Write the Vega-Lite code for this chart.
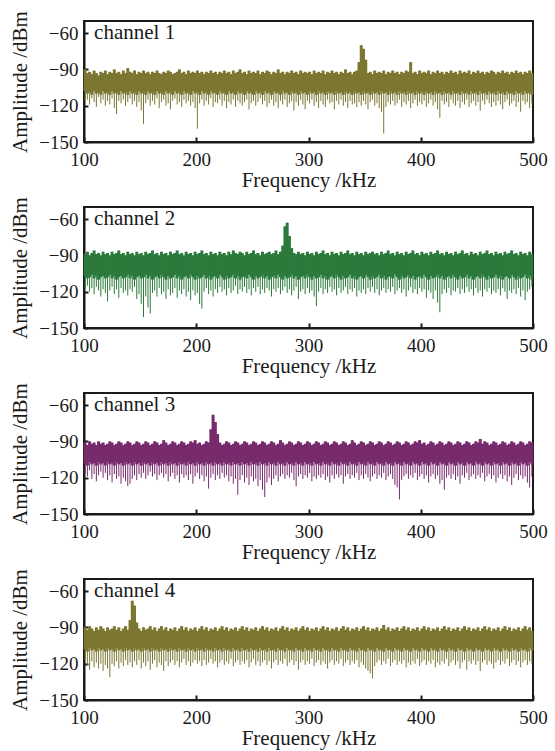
{
"$schema": "https://vega.github.io/schema/vega-lite/v6.json",
"padding": {"left": 8, "top": 9, "right": 0, "bottom": 2},
"background": "white",
"config": {
  "font": "'Liberation Serif', 'Times New Roman', Times, serif",
  "view": {"stroke": "#1a1a1a", "strokeWidth": 2},
  "axis": {"labelFont": "'Liberation Serif', 'Times New Roman', Times, serif", "titleFont": "'Liberation Serif', 'Times New Roman', Times, serif", "labelFontSize": 19, "titleFontSize": 21, "titleFontWeight": "normal", "labelColor": "#1a1a1a", "titleColor": "#1a1a1a", "domainColor": "#1a1a1a", "domainWidth": 2, "tickColor": "#1a1a1a", "tickWidth": 2, "grid": false, "labelFlush": false, "labelOverlap": false},
  "text": {"font": "'Liberation Serif', 'Times New Roman', Times, serif"}
},
"datasets": {
"c1": [
{"f":101,"h":-90,"m":-108,"l":-116},{"f":103,"h":-93,"m":-110,"l":-115},{"f":105,"h":-92,"m":-109,"l":-119},{"f":107,"h":-94,"m":-111,"l":-114},{"f":109,"h":-91,"m":-108,"l":-117},{"f":111,"h":-93,"m":-110,"l":-121},{"f":113,"h":-95,"m":-109,"l":-113},{"f":115,"h":-92,"m":-111,"l":-118},{"f":117,"h":-93,"m":-108,"l":-115},{"f":119,"h":-91,"m":-110,"l":-120},
{"f":121,"h":-94,"m":-109,"l":-116},{"f":123,"h":-92,"m":-111,"l":-119},{"f":125,"h":-93,"m":-108,"l":-114},{"f":127,"h":-90,"m":-110,"l":-122},{"f":129,"h":-93,"m":-109,"l":-127},{"f":131,"h":-92,"m":-111,"l":-116},{"f":133,"h":-94,"m":-108,"l":-118},{"f":135,"h":-91,"m":-110,"l":-115},{"f":137,"h":-93,"m":-109,"l":-120},{"f":139,"h":-89,"m":-111,"l":-117},
{"f":141,"h":-92,"m":-108,"l":-114},{"f":143,"h":-93,"m":-110,"l":-119},{"f":145,"h":-91,"m":-109,"l":-116},{"f":147,"h":-94,"m":-111,"l":-121},{"f":149,"h":-92,"m":-108,"l":-117},{"f":151,"h":-93,"m":-110,"l":-124},{"f":153,"h":-91,"m":-109,"l":-135},{"f":155,"h":-93,"m":-111,"l":-118},{"f":157,"h":-92,"m":-108,"l":-115},{"f":159,"h":-94,"m":-110,"l":-120},
{"f":161,"h":-92,"m":-109,"l":-116},{"f":163,"h":-93,"m":-111,"l":-119},{"f":165,"h":-91,"m":-108,"l":-114},{"f":167,"h":-93,"m":-110,"l":-122},{"f":169,"h":-94,"m":-109,"l":-117},{"f":171,"h":-92,"m":-111,"l":-115},{"f":173,"h":-93,"m":-108,"l":-120},{"f":175,"h":-91,"m":-110,"l":-118},{"f":177,"h":-92,"m":-109,"l":-123},{"f":179,"h":-94,"m":-111,"l":-116},
{"f":181,"h":-93,"m":-108,"l":-114},{"f":183,"h":-92,"m":-110,"l":-119},{"f":185,"h":-90,"m":-109,"l":-117},{"f":187,"h":-93,"m":-111,"l":-121},{"f":189,"h":-92,"m":-108,"l":-115},{"f":191,"h":-94,"m":-110,"l":-118},{"f":193,"h":-91,"m":-109,"l":-116},{"f":195,"h":-93,"m":-111,"l":-120},{"f":197,"h":-92,"m":-108,"l":-117},{"f":199,"h":-93,"m":-110,"l":-122},
{"f":201,"h":-91,"m":-109,"l":-139},{"f":203,"h":-93,"m":-111,"l":-118},{"f":205,"h":-92,"m":-108,"l":-115},{"f":207,"h":-94,"m":-110,"l":-120},{"f":209,"h":-92,"m":-109,"l":-116},{"f":211,"h":-93,"m":-111,"l":-119},{"f":213,"h":-91,"m":-108,"l":-114},{"f":215,"h":-93,"m":-110,"l":-121},{"f":217,"h":-92,"m":-109,"l":-117},{"f":219,"h":-94,"m":-111,"l":-118},
{"f":221,"h":-92,"m":-108,"l":-115},{"f":223,"h":-93,"m":-110,"l":-120},{"f":225,"h":-91,"m":-109,"l":-116},{"f":227,"h":-93,"m":-111,"l":-122},{"f":229,"h":-92,"m":-108,"l":-117},{"f":231,"h":-94,"m":-110,"l":-119},{"f":233,"h":-91,"m":-109,"l":-115},{"f":235,"h":-93,"m":-111,"l":-121},{"f":237,"h":-92,"m":-108,"l":-116},{"f":239,"h":-90,"m":-110,"l":-118},
{"f":241,"h":-93,"m":-109,"l":-120},{"f":243,"h":-92,"m":-111,"l":-117},{"f":245,"h":-94,"m":-108,"l":-115},{"f":247,"h":-91,"m":-110,"l":-123},{"f":249,"h":-93,"m":-109,"l":-118},{"f":251,"h":-92,"m":-111,"l":-116},{"f":253,"h":-93,"m":-108,"l":-120},{"f":255,"h":-91,"m":-110,"l":-117},{"f":257,"h":-94,"m":-109,"l":-114},{"f":259,"h":-92,"m":-111,"l":-119},
{"f":261,"h":-93,"m":-108,"l":-116},{"f":263,"h":-91,"m":-110,"l":-121},{"f":265,"h":-92,"m":-109,"l":-118},{"f":267,"h":-94,"m":-111,"l":-115},{"f":269,"h":-92,"m":-108,"l":-120},{"f":271,"h":-93,"m":-110,"l":-117},{"f":273,"h":-90,"m":-109,"l":-122},{"f":275,"h":-93,"m":-111,"l":-116},{"f":277,"h":-92,"m":-108,"l":-119},{"f":279,"h":-94,"m":-110,"l":-115},
{"f":281,"h":-92,"m":-109,"l":-121},{"f":283,"h":-93,"m":-111,"l":-118},{"f":285,"h":-91,"m":-108,"l":-116},{"f":287,"h":-93,"m":-110,"l":-124},{"f":289,"h":-92,"m":-109,"l":-117},{"f":291,"h":-94,"m":-111,"l":-120},{"f":293,"h":-91,"m":-108,"l":-115},{"f":295,"h":-93,"m":-110,"l":-119},{"f":297,"h":-92,"m":-109,"l":-123},{"f":299,"h":-93,"m":-111,"l":-116},
{"f":301,"h":-92,"m":-108,"l":-118},{"f":303,"h":-94,"m":-110,"l":-115},{"f":305,"h":-91,"m":-109,"l":-120},{"f":307,"h":-93,"m":-111,"l":-117},{"f":309,"h":-92,"m":-108,"l":-122},{"f":311,"h":-93,"m":-110,"l":-116},{"f":313,"h":-91,"m":-109,"l":-119},{"f":315,"h":-94,"m":-111,"l":-121},{"f":317,"h":-92,"m":-108,"l":-115},{"f":319,"h":-93,"m":-110,"l":-118},
{"f":321,"h":-91,"m":-109,"l":-117},{"f":323,"h":-93,"m":-111,"l":-123},{"f":325,"h":-92,"m":-108,"l":-116},{"f":327,"h":-94,"m":-110,"l":-119},{"f":329,"h":-92,"m":-109,"l":-115},{"f":331,"h":-93,"m":-111,"l":-120},{"f":333,"h":-90,"m":-108,"l":-117},{"f":335,"h":-93,"m":-110,"l":-122},{"f":337,"h":-92,"m":-109,"l":-116},{"f":339,"h":-94,"m":-111,"l":-119},
{"f":341,"h":-92,"m":-108,"l":-118},{"f":343,"h":-91,"m":-110,"l":-121},{"f":345,"h":-84,"m":-109,"l":-117},{"f":347,"h":-70,"m":-111,"l":-120},{"f":349,"h":-73,"m":-108,"l":-116},{"f":351,"h":-82,"m":-110,"l":-119},{"f":353,"h":-93,"m":-109,"l":-123},{"f":355,"h":-92,"m":-111,"l":-117},{"f":357,"h":-94,"m":-108,"l":-115},{"f":359,"h":-91,"m":-110,"l":-120},
{"f":361,"h":-93,"m":-109,"l":-118},{"f":363,"h":-92,"m":-111,"l":-122},{"f":365,"h":-93,"m":-108,"l":-125},{"f":367,"h":-91,"m":-110,"l":-143},{"f":369,"h":-94,"m":-109,"l":-121},{"f":371,"h":-92,"m":-111,"l":-117},{"f":373,"h":-93,"m":-108,"l":-119},{"f":375,"h":-91,"m":-110,"l":-116},{"f":377,"h":-93,"m":-109,"l":-120},{"f":379,"h":-92,"m":-111,"l":-118},
{"f":381,"h":-94,"m":-108,"l":-115},{"f":383,"h":-92,"m":-110,"l":-121},{"f":385,"h":-93,"m":-109,"l":-117},{"f":387,"h":-91,"m":-111,"l":-119},{"f":389,"h":-92,"m":-108,"l":-116},{"f":391,"h":-84,"m":-110,"l":-122},{"f":393,"h":-93,"m":-109,"l":-118},{"f":395,"h":-92,"m":-111,"l":-115},{"f":397,"h":-94,"m":-108,"l":-120},{"f":399,"h":-91,"m":-110,"l":-117},
{"f":401,"h":-93,"m":-109,"l":-119},{"f":403,"h":-92,"m":-111,"l":-116},{"f":405,"h":-93,"m":-108,"l":-121},{"f":407,"h":-91,"m":-110,"l":-118},{"f":409,"h":-94,"m":-109,"l":-115},{"f":411,"h":-92,"m":-111,"l":-120},{"f":413,"h":-93,"m":-108,"l":-117},{"f":415,"h":-91,"m":-110,"l":-123},{"f":417,"h":-93,"m":-109,"l":-130},{"f":419,"h":-92,"m":-111,"l":-116},
{"f":421,"h":-94,"m":-108,"l":-119},{"f":423,"h":-92,"m":-110,"l":-117},{"f":425,"h":-93,"m":-109,"l":-121},{"f":427,"h":-91,"m":-111,"l":-115},{"f":429,"h":-93,"m":-108,"l":-118},{"f":431,"h":-92,"m":-110,"l":-120},{"f":433,"h":-94,"m":-109,"l":-116},{"f":435,"h":-91,"m":-111,"l":-122},{"f":437,"h":-93,"m":-108,"l":-117},{"f":439,"h":-92,"m":-110,"l":-119},
{"f":441,"h":-93,"m":-109,"l":-115},{"f":443,"h":-91,"m":-111,"l":-121},{"f":445,"h":-94,"m":-108,"l":-118},{"f":447,"h":-92,"m":-110,"l":-116},{"f":449,"h":-93,"m":-109,"l":-120},{"f":451,"h":-91,"m":-111,"l":-117},{"f":453,"h":-93,"m":-108,"l":-124},{"f":455,"h":-92,"m":-110,"l":-116},{"f":457,"h":-94,"m":-109,"l":-119},{"f":459,"h":-92,"m":-111,"l":-115},
{"f":461,"h":-93,"m":-108,"l":-118},{"f":463,"h":-91,"m":-110,"l":-121},{"f":465,"h":-92,"m":-109,"l":-117},{"f":467,"h":-94,"m":-111,"l":-120},{"f":469,"h":-92,"m":-108,"l":-116},{"f":471,"h":-93,"m":-110,"l":-119},{"f":473,"h":-91,"m":-109,"l":-123},{"f":475,"h":-93,"m":-111,"l":-117},{"f":477,"h":-92,"m":-108,"l":-115},{"f":479,"h":-94,"m":-110,"l":-120},
{"f":481,"h":-92,"m":-109,"l":-118},{"f":483,"h":-93,"m":-111,"l":-116},{"f":485,"h":-91,"m":-108,"l":-121},{"f":487,"h":-93,"m":-110,"l":-117},{"f":489,"h":-92,"m":-109,"l":-125},{"f":491,"h":-94,"m":-111,"l":-116},{"f":493,"h":-92,"m":-108,"l":-119},{"f":495,"h":-93,"m":-110,"l":-117},{"f":497,"h":-91,"m":-109,"l":-122},{"f":499,"h":-93,"m":-111,"l":-118}
],
"c2": [
{"f":101,"h":-89,"m":-107,"l":-118},{"f":103,"h":-87,"m":-109,"l":-115},{"f":105,"h":-90,"m":-108,"l":-120},{"f":107,"h":-88,"m":-106,"l":-117},{"f":109,"h":-86,"m":-109,"l":-122},{"f":111,"h":-89,"m":-107,"l":-116},{"f":113,"h":-88,"m":-110,"l":-119},{"f":115,"h":-90,"m":-108,"l":-124},{"f":117,"h":-87,"m":-107,"l":-118},{"f":119,"h":-89,"m":-109,"l":-121},
{"f":121,"h":-88,"m":-108,"l":-128},{"f":123,"h":-90,"m":-106,"l":-119},{"f":125,"h":-87,"m":-109,"l":-116},{"f":127,"h":-89,"m":-107,"l":-122},{"f":129,"h":-88,"m":-110,"l":-118},{"f":131,"h":-86,"m":-108,"l":-125},{"f":133,"h":-89,"m":-107,"l":-117},{"f":135,"h":-88,"m":-109,"l":-121},{"f":137,"h":-90,"m":-108,"l":-119},{"f":139,"h":-87,"m":-106,"l":-123},
{"f":141,"h":-89,"m":-109,"l":-118},{"f":143,"h":-88,"m":-107,"l":-120},{"f":145,"h":-90,"m":-110,"l":-116},{"f":147,"h":-87,"m":-108,"l":-126},{"f":149,"h":-89,"m":-107,"l":-122},{"f":151,"h":-88,"m":-109,"l":-130},{"f":153,"h":-90,"m":-108,"l":-141},{"f":155,"h":-87,"m":-106,"l":-124},{"f":157,"h":-89,"m":-109,"l":-133},{"f":159,"h":-88,"m":-107,"l":-138},
{"f":161,"h":-86,"m":-110,"l":-121},{"f":163,"h":-89,"m":-108,"l":-119},{"f":165,"h":-88,"m":-107,"l":-124},{"f":167,"h":-90,"m":-109,"l":-117},{"f":169,"h":-87,"m":-106,"l":-122},{"f":171,"h":-89,"m":-108,"l":-120},{"f":173,"h":-88,"m":-110,"l":-126},{"f":175,"h":-90,"m":-107,"l":-118},{"f":177,"h":-87,"m":-109,"l":-123},{"f":179,"h":-89,"m":-108,"l":-121},
{"f":181,"h":-88,"m":-106,"l":-117},{"f":183,"h":-86,"m":-109,"l":-125},{"f":185,"h":-89,"m":-107,"l":-119},{"f":187,"h":-88,"m":-110,"l":-122},{"f":189,"h":-90,"m":-108,"l":-118},{"f":191,"h":-87,"m":-107,"l":-124},{"f":193,"h":-89,"m":-109,"l":-120},{"f":195,"h":-88,"m":-106,"l":-127},{"f":197,"h":-90,"m":-108,"l":-119},{"f":199,"h":-87,"m":-110,"l":-123},
{"f":201,"h":-89,"m":-107,"l":-121},{"f":203,"h":-88,"m":-109,"l":-130},{"f":205,"h":-86,"m":-108,"l":-134},{"f":207,"h":-89,"m":-106,"l":-120},{"f":209,"h":-88,"m":-109,"l":-117},{"f":211,"h":-90,"m":-107,"l":-122},{"f":213,"h":-87,"m":-110,"l":-119},{"f":215,"h":-89,"m":-108,"l":-124},{"f":217,"h":-88,"m":-107,"l":-118},{"f":219,"h":-90,"m":-109,"l":-121},
{"f":221,"h":-87,"m":-106,"l":-116},{"f":223,"h":-89,"m":-108,"l":-120},{"f":225,"h":-88,"m":-110,"l":-118},{"f":227,"h":-90,"m":-107,"l":-123},{"f":229,"h":-87,"m":-109,"l":-117},{"f":231,"h":-89,"m":-108,"l":-121},{"f":233,"h":-86,"m":-106,"l":-119},{"f":235,"h":-88,"m":-109,"l":-115},{"f":237,"h":-89,"m":-107,"l":-122},{"f":239,"h":-87,"m":-110,"l":-118},
{"f":241,"h":-88,"m":-108,"l":-120},{"f":243,"h":-90,"m":-107,"l":-116},{"f":245,"h":-87,"m":-109,"l":-121},{"f":247,"h":-89,"m":-106,"l":-118},{"f":249,"h":-88,"m":-108,"l":-123},{"f":251,"h":-86,"m":-110,"l":-117},{"f":253,"h":-89,"m":-107,"l":-120},{"f":255,"h":-88,"m":-109,"l":-116},{"f":257,"h":-90,"m":-108,"l":-122},{"f":259,"h":-87,"m":-106,"l":-118},
{"f":261,"h":-89,"m":-109,"l":-121},{"f":263,"h":-88,"m":-107,"l":-117},{"f":265,"h":-87,"m":-110,"l":-119},{"f":267,"h":-89,"m":-108,"l":-124},{"f":269,"h":-88,"m":-107,"l":-118},{"f":271,"h":-86,"m":-109,"l":-120},{"f":273,"h":-89,"m":-106,"l":-117},{"f":275,"h":-87,"m":-108,"l":-122},{"f":277,"h":-82,"m":-110,"l":-119},{"f":279,"h":-66,"m":-107,"l":-116},
{"f":281,"h":-63,"m":-109,"l":-121},{"f":283,"h":-74,"m":-108,"l":-118},{"f":285,"h":-84,"m":-106,"l":-123},{"f":287,"h":-88,"m":-109,"l":-119},{"f":289,"h":-89,"m":-107,"l":-116},{"f":291,"h":-87,"m":-110,"l":-126},{"f":293,"h":-89,"m":-108,"l":-120},{"f":295,"h":-88,"m":-107,"l":-118},{"f":297,"h":-90,"m":-109,"l":-122},{"f":299,"h":-87,"m":-106,"l":-117},
{"f":301,"h":-89,"m":-108,"l":-121},{"f":303,"h":-88,"m":-110,"l":-119},{"f":305,"h":-90,"m":-107,"l":-124},{"f":307,"h":-87,"m":-109,"l":-132},{"f":309,"h":-89,"m":-108,"l":-120},{"f":311,"h":-88,"m":-106,"l":-117},{"f":313,"h":-86,"m":-109,"l":-122},{"f":315,"h":-89,"m":-107,"l":-118},{"f":317,"h":-88,"m":-110,"l":-121},{"f":319,"h":-90,"m":-108,"l":-116},
{"f":321,"h":-87,"m":-107,"l":-120},{"f":323,"h":-89,"m":-109,"l":-118},{"f":325,"h":-88,"m":-106,"l":-123},{"f":327,"h":-90,"m":-108,"l":-117},{"f":329,"h":-87,"m":-110,"l":-121},{"f":331,"h":-89,"m":-107,"l":-119},{"f":333,"h":-88,"m":-109,"l":-116},{"f":335,"h":-86,"m":-108,"l":-122},{"f":337,"h":-89,"m":-106,"l":-118},{"f":339,"h":-88,"m":-109,"l":-120},
{"f":341,"h":-90,"m":-107,"l":-117},{"f":343,"h":-87,"m":-110,"l":-124},{"f":345,"h":-89,"m":-108,"l":-119},{"f":347,"h":-88,"m":-107,"l":-121},{"f":349,"h":-90,"m":-109,"l":-118},{"f":351,"h":-87,"m":-106,"l":-122},{"f":353,"h":-89,"m":-108,"l":-117},{"f":355,"h":-88,"m":-110,"l":-120},{"f":357,"h":-87,"m":-107,"l":-116},{"f":359,"h":-89,"m":-109,"l":-121},
{"f":361,"h":-88,"m":-108,"l":-118},{"f":363,"h":-90,"m":-106,"l":-123},{"f":365,"h":-87,"m":-109,"l":-119},{"f":367,"h":-89,"m":-107,"l":-117},{"f":369,"h":-88,"m":-110,"l":-121},{"f":371,"h":-86,"m":-108,"l":-118},{"f":373,"h":-89,"m":-107,"l":-120},{"f":375,"h":-88,"m":-109,"l":-116},{"f":377,"h":-90,"m":-106,"l":-122},{"f":379,"h":-87,"m":-108,"l":-119},
{"f":381,"h":-89,"m":-110,"l":-117},{"f":383,"h":-88,"m":-107,"l":-121},{"f":385,"h":-90,"m":-109,"l":-118},{"f":387,"h":-87,"m":-108,"l":-124},{"f":389,"h":-89,"m":-106,"l":-119},{"f":391,"h":-88,"m":-109,"l":-116},{"f":393,"h":-86,"m":-107,"l":-121},{"f":395,"h":-89,"m":-110,"l":-118},{"f":397,"h":-88,"m":-108,"l":-122},{"f":399,"h":-90,"m":-107,"l":-117},
{"f":401,"h":-87,"m":-109,"l":-120},{"f":403,"h":-89,"m":-106,"l":-118},{"f":405,"h":-88,"m":-108,"l":-125},{"f":407,"h":-90,"m":-110,"l":-119},{"f":409,"h":-87,"m":-107,"l":-121},{"f":411,"h":-89,"m":-109,"l":-126},{"f":413,"h":-88,"m":-108,"l":-119},{"f":415,"h":-86,"m":-106,"l":-129},{"f":417,"h":-89,"m":-109,"l":-137},{"f":419,"h":-88,"m":-107,"l":-122},
{"f":421,"h":-90,"m":-110,"l":-118},{"f":423,"h":-87,"m":-108,"l":-121},{"f":425,"h":-89,"m":-107,"l":-117},{"f":427,"h":-88,"m":-109,"l":-123},{"f":429,"h":-90,"m":-106,"l":-119},{"f":431,"h":-87,"m":-108,"l":-120},{"f":433,"h":-89,"m":-110,"l":-117},{"f":435,"h":-88,"m":-107,"l":-122},{"f":437,"h":-86,"m":-109,"l":-118},{"f":439,"h":-89,"m":-108,"l":-121},
{"f":441,"h":-88,"m":-106,"l":-116},{"f":443,"h":-90,"m":-109,"l":-120},{"f":445,"h":-87,"m":-107,"l":-118},{"f":447,"h":-89,"m":-110,"l":-123},{"f":449,"h":-88,"m":-108,"l":-117},{"f":451,"h":-90,"m":-107,"l":-121},{"f":453,"h":-87,"m":-109,"l":-119},{"f":455,"h":-89,"m":-106,"l":-124},{"f":457,"h":-88,"m":-108,"l":-118},{"f":459,"h":-86,"m":-110,"l":-120},
{"f":461,"h":-89,"m":-107,"l":-117},{"f":463,"h":-88,"m":-109,"l":-122},{"f":465,"h":-90,"m":-108,"l":-119},{"f":467,"h":-87,"m":-106,"l":-121},{"f":469,"h":-89,"m":-109,"l":-118},{"f":471,"h":-88,"m":-107,"l":-123},{"f":473,"h":-90,"m":-110,"l":-117},{"f":475,"h":-87,"m":-108,"l":-120},{"f":477,"h":-89,"m":-107,"l":-126},{"f":479,"h":-88,"m":-109,"l":-119},
{"f":481,"h":-86,"m":-106,"l":-121},{"f":483,"h":-89,"m":-108,"l":-118},{"f":485,"h":-88,"m":-110,"l":-122},{"f":487,"h":-90,"m":-107,"l":-117},{"f":489,"h":-87,"m":-109,"l":-124},{"f":491,"h":-89,"m":-108,"l":-119},{"f":493,"h":-88,"m":-106,"l":-127},{"f":495,"h":-90,"m":-109,"l":-120},{"f":497,"h":-87,"m":-107,"l":-118},{"f":499,"h":-89,"m":-110,"l":-116}
],
"c3": [
{"f":101,"h":-91,"m":-108,"l":-116},{"f":103,"h":-93,"m":-110,"l":-119},{"f":105,"h":-90,"m":-107,"l":-114},{"f":107,"h":-92,"m":-109,"l":-121},{"f":109,"h":-91,"m":-108,"l":-117},{"f":111,"h":-93,"m":-110,"l":-123},{"f":113,"h":-90,"m":-107,"l":-118},{"f":115,"h":-92,"m":-109,"l":-115},{"f":117,"h":-91,"m":-108,"l":-120},{"f":119,"h":-93,"m":-110,"l":-116},
{"f":121,"h":-92,"m":-107,"l":-122},{"f":123,"h":-90,"m":-109,"l":-118},{"f":125,"h":-91,"m":-108,"l":-124},{"f":127,"h":-93,"m":-110,"l":-117},{"f":129,"h":-92,"m":-107,"l":-121},{"f":131,"h":-90,"m":-109,"l":-119},{"f":133,"h":-91,"m":-108,"l":-125},{"f":135,"h":-93,"m":-110,"l":-120},{"f":137,"h":-92,"m":-107,"l":-123},{"f":139,"h":-90,"m":-109,"l":-127},
{"f":141,"h":-91,"m":-108,"l":-125},{"f":143,"h":-93,"m":-110,"l":-121},{"f":145,"h":-92,"m":-107,"l":-118},{"f":147,"h":-90,"m":-109,"l":-122},{"f":149,"h":-91,"m":-108,"l":-117},{"f":151,"h":-93,"m":-110,"l":-120},{"f":153,"h":-92,"m":-107,"l":-116},{"f":155,"h":-90,"m":-109,"l":-121},{"f":157,"h":-91,"m":-108,"l":-118},{"f":159,"h":-93,"m":-110,"l":-115},
{"f":161,"h":-92,"m":-107,"l":-119},{"f":163,"h":-90,"m":-109,"l":-117},{"f":165,"h":-91,"m":-108,"l":-122},{"f":167,"h":-93,"m":-110,"l":-118},{"f":169,"h":-92,"m":-107,"l":-116},{"f":171,"h":-89,"m":-109,"l":-120},{"f":173,"h":-91,"m":-108,"l":-117},{"f":175,"h":-93,"m":-110,"l":-123},{"f":177,"h":-92,"m":-107,"l":-119},{"f":179,"h":-90,"m":-109,"l":-116},
{"f":181,"h":-91,"m":-108,"l":-121},{"f":183,"h":-93,"m":-110,"l":-118},{"f":185,"h":-92,"m":-107,"l":-124},{"f":187,"h":-90,"m":-109,"l":-117},{"f":189,"h":-91,"m":-108,"l":-120},{"f":191,"h":-93,"m":-110,"l":-118},{"f":193,"h":-92,"m":-107,"l":-122},{"f":195,"h":-90,"m":-109,"l":-117},{"f":197,"h":-91,"m":-108,"l":-125},{"f":199,"h":-89,"m":-110,"l":-119},
{"f":201,"h":-92,"m":-107,"l":-116},{"f":203,"h":-91,"m":-109,"l":-121},{"f":205,"h":-93,"m":-108,"l":-118},{"f":207,"h":-92,"m":-110,"l":-123},{"f":209,"h":-90,"m":-107,"l":-119},{"f":211,"h":-91,"m":-109,"l":-129},{"f":213,"h":-80,"m":-108,"l":-120},{"f":215,"h":-68,"m":-110,"l":-117},{"f":217,"h":-74,"m":-107,"l":-122},{"f":219,"h":-84,"m":-109,"l":-118},
{"f":221,"h":-91,"m":-108,"l":-121},{"f":223,"h":-93,"m":-110,"l":-116},{"f":225,"h":-92,"m":-107,"l":-120},{"f":227,"h":-90,"m":-109,"l":-118},{"f":229,"h":-91,"m":-108,"l":-123},{"f":231,"h":-93,"m":-110,"l":-119},{"f":233,"h":-92,"m":-107,"l":-125},{"f":235,"h":-90,"m":-109,"l":-121},{"f":237,"h":-91,"m":-108,"l":-134},{"f":239,"h":-93,"m":-110,"l":-122},
{"f":241,"h":-92,"m":-107,"l":-118},{"f":243,"h":-90,"m":-109,"l":-124},{"f":245,"h":-91,"m":-108,"l":-120},{"f":247,"h":-93,"m":-110,"l":-126},{"f":249,"h":-92,"m":-107,"l":-119},{"f":251,"h":-90,"m":-109,"l":-123},{"f":253,"h":-91,"m":-108,"l":-121},{"f":255,"h":-93,"m":-110,"l":-127},{"f":257,"h":-92,"m":-107,"l":-122},{"f":259,"h":-90,"m":-109,"l":-130},
{"f":261,"h":-91,"m":-108,"l":-136},{"f":263,"h":-93,"m":-110,"l":-124},{"f":265,"h":-92,"m":-107,"l":-120},{"f":267,"h":-90,"m":-109,"l":-126},{"f":269,"h":-91,"m":-108,"l":-121},{"f":271,"h":-93,"m":-110,"l":-118},{"f":273,"h":-92,"m":-107,"l":-123},{"f":275,"h":-89,"m":-109,"l":-119},{"f":277,"h":-91,"m":-108,"l":-117},{"f":279,"h":-93,"m":-110,"l":-121},
{"f":281,"h":-92,"m":-107,"l":-118},{"f":283,"h":-90,"m":-109,"l":-120},{"f":285,"h":-91,"m":-108,"l":-116},{"f":287,"h":-93,"m":-110,"l":-122},{"f":289,"h":-92,"m":-107,"l":-127},{"f":291,"h":-90,"m":-109,"l":-119},{"f":293,"h":-91,"m":-108,"l":-117},{"f":295,"h":-93,"m":-110,"l":-121},{"f":297,"h":-92,"m":-107,"l":-118},{"f":299,"h":-90,"m":-109,"l":-120},
{"f":301,"h":-91,"m":-108,"l":-116},{"f":303,"h":-93,"m":-110,"l":-123},{"f":305,"h":-92,"m":-107,"l":-119},{"f":307,"h":-90,"m":-109,"l":-121},{"f":309,"h":-91,"m":-108,"l":-118},{"f":311,"h":-93,"m":-110,"l":-120},{"f":313,"h":-92,"m":-107,"l":-117},{"f":315,"h":-90,"m":-109,"l":-122},{"f":317,"h":-91,"m":-108,"l":-119},{"f":319,"h":-93,"m":-110,"l":-124},
{"f":321,"h":-92,"m":-107,"l":-118},{"f":323,"h":-90,"m":-109,"l":-121},{"f":325,"h":-91,"m":-108,"l":-117},{"f":327,"h":-93,"m":-110,"l":-120},{"f":329,"h":-92,"m":-107,"l":-118},{"f":331,"h":-90,"m":-109,"l":-125},{"f":333,"h":-91,"m":-108,"l":-119},{"f":335,"h":-93,"m":-110,"l":-117},{"f":337,"h":-92,"m":-107,"l":-121},{"f":339,"h":-89,"m":-109,"l":-118},
{"f":341,"h":-91,"m":-108,"l":-120},{"f":343,"h":-93,"m":-110,"l":-116},{"f":345,"h":-92,"m":-107,"l":-122},{"f":347,"h":-90,"m":-109,"l":-118},{"f":349,"h":-91,"m":-108,"l":-121},{"f":351,"h":-93,"m":-110,"l":-117},{"f":353,"h":-92,"m":-107,"l":-120},{"f":355,"h":-90,"m":-109,"l":-123},{"f":357,"h":-91,"m":-108,"l":-119},{"f":359,"h":-93,"m":-110,"l":-117},
{"f":361,"h":-92,"m":-107,"l":-121},{"f":363,"h":-90,"m":-109,"l":-118},{"f":365,"h":-91,"m":-108,"l":-120},{"f":367,"h":-93,"m":-110,"l":-116},{"f":369,"h":-92,"m":-107,"l":-122},{"f":371,"h":-90,"m":-109,"l":-119},{"f":373,"h":-91,"m":-108,"l":-117},{"f":375,"h":-93,"m":-110,"l":-121},{"f":377,"h":-92,"m":-107,"l":-126},{"f":379,"h":-90,"m":-109,"l":-128},
{"f":381,"h":-91,"m":-108,"l":-138},{"f":383,"h":-93,"m":-110,"l":-122},{"f":385,"h":-92,"m":-107,"l":-119},{"f":387,"h":-90,"m":-109,"l":-117},{"f":389,"h":-91,"m":-108,"l":-121},{"f":391,"h":-93,"m":-110,"l":-118},{"f":393,"h":-92,"m":-107,"l":-120},{"f":395,"h":-90,"m":-109,"l":-116},{"f":397,"h":-91,"m":-108,"l":-122},{"f":399,"h":-89,"m":-110,"l":-119},
{"f":401,"h":-92,"m":-107,"l":-117},{"f":403,"h":-91,"m":-109,"l":-121},{"f":405,"h":-93,"m":-108,"l":-118},{"f":407,"h":-92,"m":-110,"l":-124},{"f":409,"h":-90,"m":-107,"l":-119},{"f":411,"h":-91,"m":-109,"l":-117},{"f":413,"h":-93,"m":-108,"l":-121},{"f":415,"h":-92,"m":-110,"l":-118},{"f":417,"h":-90,"m":-107,"l":-125},{"f":419,"h":-91,"m":-109,"l":-122},
{"f":421,"h":-93,"m":-108,"l":-130},{"f":423,"h":-92,"m":-110,"l":-120},{"f":425,"h":-90,"m":-107,"l":-118},{"f":427,"h":-91,"m":-109,"l":-121},{"f":429,"h":-93,"m":-108,"l":-117},{"f":431,"h":-92,"m":-110,"l":-122},{"f":433,"h":-90,"m":-107,"l":-119},{"f":435,"h":-91,"m":-109,"l":-125},{"f":437,"h":-93,"m":-108,"l":-118},{"f":439,"h":-92,"m":-110,"l":-120},
{"f":441,"h":-90,"m":-107,"l":-116},{"f":443,"h":-91,"m":-109,"l":-122},{"f":445,"h":-93,"m":-108,"l":-119},{"f":447,"h":-92,"m":-110,"l":-117},{"f":449,"h":-90,"m":-107,"l":-121},{"f":451,"h":-91,"m":-109,"l":-118},{"f":453,"h":-88,"m":-108,"l":-120},{"f":455,"h":-92,"m":-110,"l":-116},{"f":457,"h":-90,"m":-107,"l":-123},{"f":459,"h":-91,"m":-109,"l":-119},
{"f":461,"h":-93,"m":-108,"l":-117},{"f":463,"h":-92,"m":-110,"l":-121},{"f":465,"h":-90,"m":-107,"l":-118},{"f":467,"h":-91,"m":-109,"l":-124},{"f":469,"h":-93,"m":-108,"l":-120},{"f":471,"h":-92,"m":-110,"l":-117},{"f":473,"h":-90,"m":-107,"l":-121},{"f":475,"h":-91,"m":-109,"l":-118},{"f":477,"h":-93,"m":-108,"l":-123},{"f":479,"h":-92,"m":-110,"l":-119},
{"f":481,"h":-90,"m":-107,"l":-126},{"f":483,"h":-91,"m":-109,"l":-120},{"f":485,"h":-93,"m":-108,"l":-117},{"f":487,"h":-92,"m":-110,"l":-122},{"f":489,"h":-90,"m":-107,"l":-118},{"f":491,"h":-91,"m":-109,"l":-121},{"f":493,"h":-93,"m":-108,"l":-119},{"f":495,"h":-92,"m":-110,"l":-124},{"f":497,"h":-90,"m":-107,"l":-128},{"f":499,"h":-91,"m":-109,"l":-119}
],
"c4": [
{"f":101,"h":-90,"m":-108,"l":-117},{"f":103,"h":-92,"m":-110,"l":-121},{"f":105,"h":-89,"m":-107,"l":-125},{"f":107,"h":-91,"m":-109,"l":-118},{"f":109,"h":-93,"m":-108,"l":-123},{"f":111,"h":-90,"m":-110,"l":-119},{"f":113,"h":-92,"m":-107,"l":-124},{"f":115,"h":-89,"m":-109,"l":-120},{"f":117,"h":-91,"m":-108,"l":-126},{"f":119,"h":-93,"m":-110,"l":-121},
{"f":121,"h":-90,"m":-107,"l":-124},{"f":123,"h":-92,"m":-109,"l":-131},{"f":125,"h":-91,"m":-108,"l":-120},{"f":127,"h":-89,"m":-110,"l":-122},{"f":129,"h":-92,"m":-107,"l":-118},{"f":131,"h":-90,"m":-109,"l":-124},{"f":133,"h":-93,"m":-108,"l":-119},{"f":135,"h":-91,"m":-110,"l":-122},{"f":137,"h":-89,"m":-107,"l":-117},{"f":139,"h":-92,"m":-109,"l":-121},
{"f":141,"h":-84,"m":-108,"l":-119},{"f":143,"h":-68,"m":-110,"l":-123},{"f":145,"h":-72,"m":-107,"l":-118},{"f":147,"h":-86,"m":-109,"l":-121},{"f":149,"h":-91,"m":-108,"l":-117},{"f":151,"h":-93,"m":-110,"l":-124},{"f":153,"h":-90,"m":-107,"l":-119},{"f":155,"h":-92,"m":-109,"l":-122},{"f":157,"h":-91,"m":-108,"l":-118},{"f":159,"h":-89,"m":-110,"l":-125},
{"f":161,"h":-92,"m":-107,"l":-120},{"f":163,"h":-90,"m":-109,"l":-117},{"f":165,"h":-93,"m":-108,"l":-123},{"f":167,"h":-91,"m":-110,"l":-119},{"f":169,"h":-89,"m":-107,"l":-121},{"f":171,"h":-92,"m":-109,"l":-126},{"f":173,"h":-90,"m":-108,"l":-118},{"f":175,"h":-93,"m":-110,"l":-122},{"f":177,"h":-91,"m":-107,"l":-119},{"f":179,"h":-92,"m":-109,"l":-117},
{"f":181,"h":-90,"m":-108,"l":-121},{"f":183,"h":-93,"m":-110,"l":-118},{"f":185,"h":-91,"m":-107,"l":-123},{"f":187,"h":-89,"m":-109,"l":-119},{"f":189,"h":-92,"m":-108,"l":-116},{"f":191,"h":-90,"m":-110,"l":-121},{"f":193,"h":-93,"m":-107,"l":-118},{"f":195,"h":-91,"m":-109,"l":-122},{"f":197,"h":-92,"m":-108,"l":-119},{"f":199,"h":-90,"m":-110,"l":-117},
{"f":201,"h":-93,"m":-107,"l":-120},{"f":203,"h":-91,"m":-109,"l":-118},{"f":205,"h":-89,"m":-108,"l":-122},{"f":207,"h":-92,"m":-110,"l":-117},{"f":209,"h":-90,"m":-107,"l":-121},{"f":211,"h":-93,"m":-109,"l":-119},{"f":213,"h":-91,"m":-108,"l":-116},{"f":215,"h":-92,"m":-110,"l":-120},{"f":217,"h":-90,"m":-107,"l":-118},{"f":219,"h":-93,"m":-109,"l":-123},
{"f":221,"h":-91,"m":-108,"l":-119},{"f":223,"h":-89,"m":-110,"l":-117},{"f":225,"h":-92,"m":-107,"l":-121},{"f":227,"h":-90,"m":-109,"l":-118},{"f":229,"h":-93,"m":-108,"l":-120},{"f":231,"h":-91,"m":-110,"l":-116},{"f":233,"h":-92,"m":-107,"l":-122},{"f":235,"h":-90,"m":-109,"l":-119},{"f":237,"h":-93,"m":-108,"l":-117},{"f":239,"h":-91,"m":-110,"l":-121},
{"f":241,"h":-89,"m":-107,"l":-118},{"f":243,"h":-92,"m":-109,"l":-120},{"f":245,"h":-90,"m":-108,"l":-117},{"f":247,"h":-93,"m":-110,"l":-123},{"f":249,"h":-91,"m":-107,"l":-119},{"f":251,"h":-92,"m":-109,"l":-116},{"f":253,"h":-90,"m":-108,"l":-121},{"f":255,"h":-93,"m":-110,"l":-118},{"f":257,"h":-91,"m":-107,"l":-122},{"f":259,"h":-89,"m":-109,"l":-119},
{"f":261,"h":-92,"m":-108,"l":-117},{"f":263,"h":-90,"m":-110,"l":-121},{"f":265,"h":-93,"m":-107,"l":-118},{"f":267,"h":-91,"m":-109,"l":-124},{"f":269,"h":-92,"m":-108,"l":-119},{"f":271,"h":-90,"m":-110,"l":-117},{"f":273,"h":-93,"m":-107,"l":-121},{"f":275,"h":-91,"m":-109,"l":-118},{"f":277,"h":-89,"m":-108,"l":-120},{"f":279,"h":-92,"m":-110,"l":-116},
{"f":281,"h":-90,"m":-107,"l":-122},{"f":283,"h":-93,"m":-109,"l":-119},{"f":285,"h":-91,"m":-108,"l":-117},{"f":287,"h":-92,"m":-110,"l":-121},{"f":289,"h":-90,"m":-107,"l":-118},{"f":291,"h":-93,"m":-109,"l":-125},{"f":293,"h":-91,"m":-108,"l":-119},{"f":295,"h":-89,"m":-110,"l":-117},{"f":297,"h":-92,"m":-107,"l":-121},{"f":299,"h":-90,"m":-109,"l":-118},
{"f":301,"h":-93,"m":-108,"l":-120},{"f":303,"h":-91,"m":-110,"l":-116},{"f":305,"h":-92,"m":-107,"l":-122},{"f":307,"h":-90,"m":-109,"l":-119},{"f":309,"h":-93,"m":-108,"l":-117},{"f":311,"h":-91,"m":-110,"l":-121},{"f":313,"h":-89,"m":-107,"l":-118},{"f":315,"h":-92,"m":-109,"l":-120},{"f":317,"h":-90,"m":-108,"l":-124},{"f":319,"h":-93,"m":-110,"l":-119},
{"f":321,"h":-91,"m":-107,"l":-117},{"f":323,"h":-92,"m":-109,"l":-121},{"f":325,"h":-90,"m":-108,"l":-118},{"f":327,"h":-93,"m":-110,"l":-120},{"f":329,"h":-91,"m":-107,"l":-116},{"f":331,"h":-89,"m":-109,"l":-122},{"f":333,"h":-92,"m":-108,"l":-119},{"f":335,"h":-90,"m":-110,"l":-117},{"f":337,"h":-93,"m":-107,"l":-121},{"f":339,"h":-91,"m":-109,"l":-118},
{"f":341,"h":-92,"m":-108,"l":-120},{"f":343,"h":-90,"m":-110,"l":-117},{"f":345,"h":-93,"m":-107,"l":-123},{"f":347,"h":-91,"m":-109,"l":-119},{"f":349,"h":-89,"m":-108,"l":-121},{"f":351,"h":-92,"m":-110,"l":-124},{"f":353,"h":-90,"m":-107,"l":-126},{"f":355,"h":-93,"m":-109,"l":-128},{"f":357,"h":-91,"m":-108,"l":-132},{"f":359,"h":-92,"m":-110,"l":-122},
{"f":361,"h":-90,"m":-107,"l":-119},{"f":363,"h":-93,"m":-109,"l":-117},{"f":365,"h":-91,"m":-108,"l":-121},{"f":367,"h":-88,"m":-110,"l":-118},{"f":369,"h":-92,"m":-107,"l":-120},{"f":371,"h":-90,"m":-109,"l":-116},{"f":373,"h":-93,"m":-108,"l":-122},{"f":375,"h":-91,"m":-110,"l":-119},{"f":377,"h":-92,"m":-107,"l":-117},{"f":379,"h":-90,"m":-109,"l":-121},
{"f":381,"h":-93,"m":-108,"l":-118},{"f":383,"h":-91,"m":-110,"l":-120},{"f":385,"h":-89,"m":-107,"l":-117},{"f":387,"h":-92,"m":-109,"l":-123},{"f":389,"h":-90,"m":-108,"l":-119},{"f":391,"h":-93,"m":-110,"l":-121},{"f":393,"h":-91,"m":-107,"l":-118},{"f":395,"h":-92,"m":-109,"l":-120},{"f":397,"h":-90,"m":-108,"l":-116},{"f":399,"h":-93,"m":-110,"l":-122},
{"f":401,"h":-91,"m":-107,"l":-119},{"f":403,"h":-89,"m":-109,"l":-117},{"f":405,"h":-92,"m":-108,"l":-121},{"f":407,"h":-90,"m":-110,"l":-118},{"f":409,"h":-93,"m":-107,"l":-120},{"f":411,"h":-91,"m":-109,"l":-117},{"f":413,"h":-92,"m":-108,"l":-123},{"f":415,"h":-90,"m":-110,"l":-119},{"f":417,"h":-93,"m":-107,"l":-121},{"f":419,"h":-91,"m":-109,"l":-118},
{"f":421,"h":-89,"m":-108,"l":-120},{"f":423,"h":-92,"m":-110,"l":-116},{"f":425,"h":-90,"m":-107,"l":-122},{"f":427,"h":-93,"m":-109,"l":-119},{"f":429,"h":-91,"m":-108,"l":-117},{"f":431,"h":-92,"m":-110,"l":-121},{"f":433,"h":-90,"m":-107,"l":-118},{"f":435,"h":-93,"m":-109,"l":-124},{"f":437,"h":-91,"m":-108,"l":-119},{"f":439,"h":-89,"m":-110,"l":-117},
{"f":441,"h":-92,"m":-107,"l":-125},{"f":443,"h":-90,"m":-109,"l":-118},{"f":445,"h":-93,"m":-108,"l":-120},{"f":447,"h":-91,"m":-110,"l":-117},{"f":449,"h":-92,"m":-107,"l":-121},{"f":451,"h":-90,"m":-109,"l":-118},{"f":453,"h":-93,"m":-108,"l":-126},{"f":455,"h":-91,"m":-110,"l":-119},{"f":457,"h":-89,"m":-107,"l":-117},{"f":459,"h":-92,"m":-109,"l":-121},
{"f":461,"h":-90,"m":-108,"l":-118},{"f":463,"h":-93,"m":-110,"l":-120},{"f":465,"h":-91,"m":-107,"l":-124},{"f":467,"h":-92,"m":-109,"l":-119},{"f":469,"h":-90,"m":-108,"l":-117},{"f":471,"h":-93,"m":-110,"l":-121},{"f":473,"h":-91,"m":-107,"l":-118},{"f":475,"h":-89,"m":-109,"l":-120},{"f":477,"h":-92,"m":-108,"l":-116},{"f":479,"h":-90,"m":-110,"l":-122},
{"f":481,"h":-93,"m":-107,"l":-119},{"f":483,"h":-91,"m":-109,"l":-117},{"f":485,"h":-92,"m":-108,"l":-121},{"f":487,"h":-90,"m":-110,"l":-118},{"f":489,"h":-93,"m":-107,"l":-123},{"f":491,"h":-91,"m":-109,"l":-119},{"f":493,"h":-89,"m":-108,"l":-117},{"f":495,"h":-92,"m":-110,"l":-121},{"f":497,"h":-90,"m":-107,"l":-118},{"f":499,"h":-93,"m":-109,"l":-120}
]
},
"spacing": 65,
"bounds": "flush",
"vconcat": [
{"width": 449, "height": 121, "data": {"name": "c1"},
 "layer": [
  {"mark": {"type": "rule", "strokeWidth": 1, "color": "#7b7630"},
   "encoding": {"x": {"field": "f", "type": "quantitative", "scale": {"domain": [100, 500]}, "axis": {"values": [100,200,300,400,500], "title": "Frequency /kHz", "tickSize": -5, "labelPadding": 13, "titlePadding": 0}},
                "y": {"field": "h", "type": "quantitative", "scale": {"domain": [-150, -50]}, "axis": {"values": [-150,-120,-90,-60], "title": "Amplitude /dBm", "tickSize": -4, "labelPadding": 10, "titlePadding": 8}},
                "y2": {"field": "l"}}},
  {"mark": {"type": "rule", "strokeWidth": 3, "color": "#7b7630"},
   "encoding": {"x": {"field": "f", "type": "quantitative"}, "y": {"field": "h", "type": "quantitative"}, "y2": {"field": "m"}}},
  {"data": {"values": [{"label": "channel 1", "x": 109, "y": -60}]},
   "mark": {"type": "text", "align": "left", "baseline": "middle", "fontSize": 21, "color": "#1a1a1a"},
   "encoding": {"x": {"field": "x", "type": "quantitative"}, "y": {"field": "y", "type": "quantitative"}, "text": {"field": "label"}}}
 ]},
{"width": 449, "height": 121, "data": {"name": "c2"},
 "layer": [
  {"mark": {"type": "rule", "strokeWidth": 1, "color": "#2b7a3b"},
   "encoding": {"x": {"field": "f", "type": "quantitative", "scale": {"domain": [100, 500]}, "axis": {"values": [100,200,300,400,500], "title": "Frequency /kHz", "tickSize": -5, "labelPadding": 13, "titlePadding": 0}},
                "y": {"field": "h", "type": "quantitative", "scale": {"domain": [-150, -50]}, "axis": {"values": [-150,-120,-90,-60], "title": "Amplitude /dBm", "tickSize": -4, "labelPadding": 10, "titlePadding": 8}},
                "y2": {"field": "l"}}},
  {"mark": {"type": "rule", "strokeWidth": 3, "color": "#2b7a3b"},
   "encoding": {"x": {"field": "f", "type": "quantitative"}, "y": {"field": "h", "type": "quantitative"}, "y2": {"field": "m"}}},
  {"data": {"values": [{"label": "channel 2", "x": 109, "y": -60}]},
   "mark": {"type": "text", "align": "left", "baseline": "middle", "fontSize": 21, "color": "#1a1a1a"},
   "encoding": {"x": {"field": "x", "type": "quantitative"}, "y": {"field": "y", "type": "quantitative"}, "text": {"field": "label"}}}
 ]},
{"width": 449, "height": 121, "data": {"name": "c3"},
 "layer": [
  {"mark": {"type": "rule", "strokeWidth": 1, "color": "#772a6c"},
   "encoding": {"x": {"field": "f", "type": "quantitative", "scale": {"domain": [100, 500]}, "axis": {"values": [100,200,300,400,500], "title": "Frequency /kHz", "tickSize": -5, "labelPadding": 13, "titlePadding": 0}},
                "y": {"field": "h", "type": "quantitative", "scale": {"domain": [-150, -50]}, "axis": {"values": [-150,-120,-90,-60], "title": "Amplitude /dBm", "tickSize": -4, "labelPadding": 10, "titlePadding": 8}},
                "y2": {"field": "l"}}},
  {"mark": {"type": "rule", "strokeWidth": 3, "color": "#772a6c"},
   "encoding": {"x": {"field": "f", "type": "quantitative"}, "y": {"field": "h", "type": "quantitative"}, "y2": {"field": "m"}}},
  {"data": {"values": [{"label": "channel 3", "x": 109, "y": -60}]},
   "mark": {"type": "text", "align": "left", "baseline": "middle", "fontSize": 21, "color": "#1a1a1a"},
   "encoding": {"x": {"field": "x", "type": "quantitative"}, "y": {"field": "y", "type": "quantitative"}, "text": {"field": "label"}}}
 ]},
{"width": 449, "height": 121, "data": {"name": "c4"},
 "layer": [
  {"mark": {"type": "rule", "strokeWidth": 1, "color": "#7b7630"},
   "encoding": {"x": {"field": "f", "type": "quantitative", "scale": {"domain": [100, 500]}, "axis": {"values": [100,200,300,400,500], "title": "Frequency /kHz", "tickSize": -5, "labelPadding": 13, "titlePadding": 0}},
                "y": {"field": "h", "type": "quantitative", "scale": {"domain": [-150, -50]}, "axis": {"values": [-150,-120,-90,-60], "title": "Amplitude /dBm", "tickSize": -4, "labelPadding": 10, "titlePadding": 8}},
                "y2": {"field": "l"}}},
  {"mark": {"type": "rule", "strokeWidth": 3, "color": "#7b7630"},
   "encoding": {"x": {"field": "f", "type": "quantitative"}, "y": {"field": "h", "type": "quantitative"}, "y2": {"field": "m"}}},
  {"data": {"values": [{"label": "channel 4", "x": 109, "y": -60}]},
   "mark": {"type": "text", "align": "left", "baseline": "middle", "fontSize": 21, "color": "#1a1a1a"},
   "encoding": {"x": {"field": "x", "type": "quantitative"}, "y": {"field": "y", "type": "quantitative"}, "text": {"field": "label"}}}
 ]}
]
}
